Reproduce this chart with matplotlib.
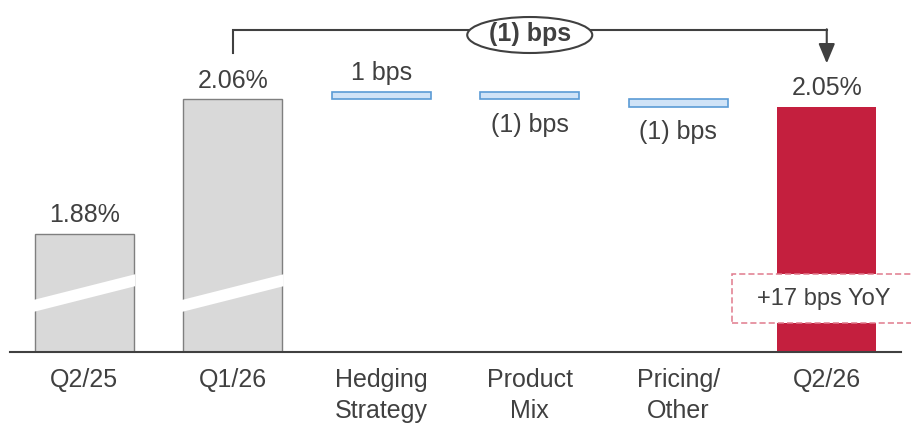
import matplotlib
matplotlib.use("Agg")
import matplotlib.pyplot as plt
from matplotlib.patches import Ellipse, Rectangle, Polygon

plt.rcParams['font.family'] = ['Liberation Sans', 'DejaVu Sans']

# data
categories = ["Q2/25", "Q1/26", "Hedging\nStrategy", "Product\nMix", "Pricing/\nOther", "Q2/26"]
start_values = [1.88, 2.06]          # percent
end_value = 2.05                     # percent
changes_bps = [1, -1, -1]
change_labels = ["1 bps", "(1) bps", "(1) bps"]
value_labels = ["1.88%", "2.06%", "2.05%"]
qoq_label = "(1) bps"
yoy_label = "+17 bps YoY"

TXT = "#404040"
GREY = "#D9D9D9"
GREY_EDGE = "#7F7F7F"
RED = "#C41F3E"
BLUE = "#D0E3F7"
BLUE_EDGE = "#5B9BD5"

Y0 = 1.7222   # truncated axis floor
Y1 = 2.1928
W = 0.667

fig = plt.figure(figsize=(9.12, 4.26), dpi=100)
ax = fig.add_axes([10 / 912, 74 / 426, 891 / 912, 352 / 426])
ax.set_xlim(-0.5, 5.5)
ax.set_ylim(Y0, Y1)

# full bars
for i, v in enumerate(start_values):
    ax.bar(i, v - Y0, bottom=Y0, width=W, color=GREY, edgecolor=GREY_EDGE, linewidth=1, zorder=2)
ax.bar(5, end_value - Y0, bottom=Y0, width=W, color=RED, edgecolor="none", zorder=2)

# axis break bands on the grey bars
brk_lo, brk_th, brk_rise = 1.7757, 0.016, 0.0345
for i in range(len(start_values)):
    x0, x1 = i - W / 2 - 0.01, i + W / 2 + 0.01
    band = Polygon([(x0, brk_lo), (x1, brk_lo + brk_rise), (x1, brk_lo + brk_rise + brk_th),
                    (x0, brk_lo + brk_th)], closed=True, facecolor="white", edgecolor="none", zorder=3)
    ax.add_patch(band)

# value labels
tops = start_values + [end_value]
for x, v, lab in zip([0, 1, 5], tops, value_labels):
    ax.annotate(lab, (x, v), xytext=(0, 8.5), textcoords="offset points",
                ha="center", va="baseline", fontsize=18, color=TXT)

# waterfall steps
level = start_values[-1]
for k, (d, lab) in enumerate(zip(changes_bps, change_labels)):
    x = 2 + k
    new = level + d / 100
    lo, hi = min(level, new), max(level, new)
    ax.bar(x, hi - lo, bottom=lo, width=W, color=BLUE, edgecolor=BLUE_EDGE, linewidth=1.2, zorder=2)
    if d > 0:
        ax.annotate(lab, (x, hi), xytext=(0, 8.5), textcoords="offset points",
                    ha="center", va="baseline", fontsize=18, color=TXT)
    else:
        ax.annotate(lab, (x, lo), xytext=(0, -9.5), textcoords="offset points",
                    ha="center", va="top", fontsize=18, color=TXT)
    level = new

# QoQ bracket
yb = 2.1527
ax.plot([1, 1, 5], [2.122, yb, yb], color=TXT, lw=1.5, solid_joinstyle="miter", zorder=4)
ax.annotate("", xy=(5, 2.108), xytext=(5, yb + 0.001),
            arrowprops=dict(arrowstyle="-|>,head_length=0.6,head_width=0.25", mutation_scale=20,
                            color=TXT, lw=1.5, shrinkA=0, shrinkB=0), zorder=4)
ax.add_patch(Ellipse((3, 2.1460), 0.842, 0.0481, facecolor="white", edgecolor=TXT, lw=1.5, zorder=5))
ax.text(3, 2.1475, qoq_label, ha="center", va="center", fontsize=18, fontweight="bold", color=TXT, zorder=6)

# YoY box
ax.add_patch(Rectangle((4.364, 1.761), 1.3, 0.0655, facecolor="white", edgecolor="#E07A8D",
                       lw=1.1, linestyle=(0, (4, 2)), clip_on=False, zorder=5))
ax.text(4.98, 1.7925, yoy_label, ha="center", va="center", fontsize=17, color=TXT, zorder=6)

# axes styling
for s in ["top", "right", "left"]:
    ax.spines[s].set_visible(False)
ax.spines["bottom"].set_color(TXT)
ax.spines["bottom"].set_linewidth(1.5)
ax.set_yticks([])
ax.set_xticks(range(len(categories)))
ax.set_xticklabels(categories, fontsize=18, color=TXT, linespacing=1.38)
ax.tick_params(axis="x", length=0, pad=11.5)

fig.savefig("out.png", dpi=100)
